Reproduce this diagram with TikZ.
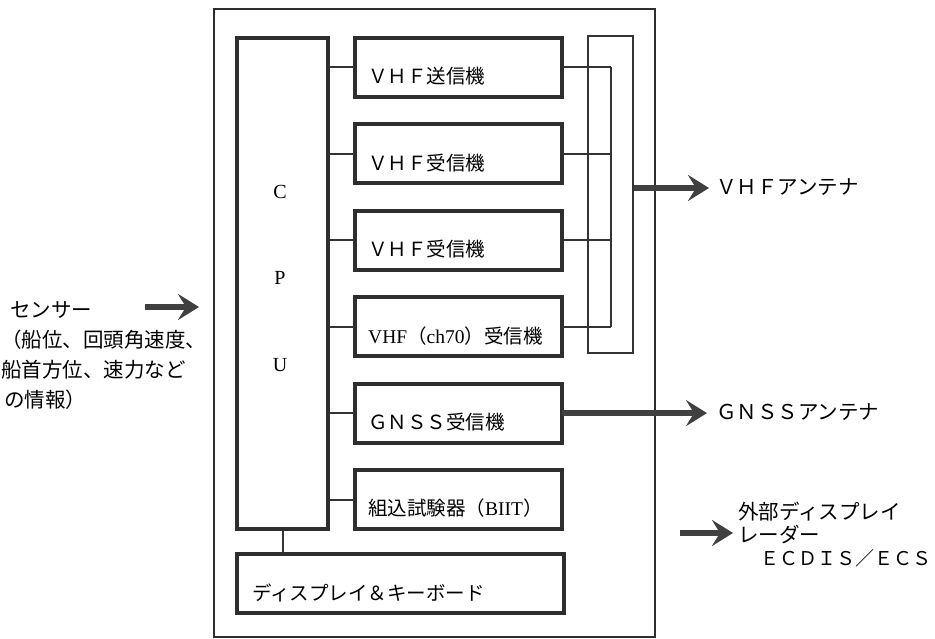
\documentclass[tikz,border=0pt]{standalone}
\usepackage{fontspec}
\setmainfont{Liberation Serif}
\newfontfamily\cjk{Noto Sans CJK JP}
\usetikzlibrary{arrows.meta}
\definecolor{boxc}{HTML}{2E2E2E}
\definecolor{linec}{HTML}{333333}
\definecolor{arrc}{HTML}{404040}
\begin{document}
\begin{tikzpicture}[x=1pt,y=-1pt]
\tikzset{
  unit/.style={draw=boxc, line width=4pt, minimum width=207.5pt, minimum height=59pt, inner sep=0pt, outer sep=0pt},
  lbl/.style={anchor=west, inner sep=0pt, text=black, font=\cjk\fontsize{19.5}{19.5}\selectfont},
  side/.style={anchor=west, inner sep=0pt, text=black, font=\cjk\fontsize{20.5}{20.5}\selectfont},
  wire/.style={draw=linec, line width=2pt},
  bigarrow/.style={draw=arrc, line width=5.5pt, -{Stealth[length=21pt,width=26pt,inset=8pt]}},
  cpul/.style={inner sep=0pt, text=black, font=\fontsize{20}{20}\selectfont}
}
\fill[white] (0,0) rectangle (935,639);
\useasboundingbox (0,0) rectangle (935,639);

% outer frame
\node[draw=boxc, line width=1.6pt, minimum width=441pt, minimum height=628pt, inner sep=0pt] (ais) at (434.5,323) {};

% CPU
\node[draw=boxc, line width=4pt, minimum width=91pt, minimum height=491pt, inner sep=0pt] (cpu) at (282,283.5) {};
\node[cpul] (c) at (280,192) {C};
\node[cpul] (p) at (280,278) {P};
\node[cpul] (u) at (280,365) {U};

% units
\node[unit] (tx) at (458.25,67.5) {};
\node[unit] (rx1) at (458.25,153.9) {};
\node[unit] (rx2) at (458.25,240.3) {};
\node[unit] (rx70) at (458.25,326.7) {};
\node[unit] (gnss) at (458.25,413.1) {};
\node[unit] (biit) at (458.25,499.5) {};
\node[draw=boxc, line width=4pt, minimum width=327.5pt, minimum height=59pt, inner sep=0pt] (disp) at (400.25,583.5) {};

\node[lbl] (txl) at (368,76.5) {ＶＨＦ送信機};
\node[lbl] (rx1l) at (368,162.9) {ＶＨＦ受信機};
\node[lbl] (rx2l) at (368,249.3) {ＶＨＦ受信機};
\node[lbl] (rx70l) at (368,335.7) {{\rmfamily\fontsize{19.5}{19.5}\selectfont VHF}（{\rmfamily\fontsize{19.5}{19.5}\selectfont ch70}）受信機};
\node[lbl] (gnssl) at (368,422.1) {ＧＮＳＳ受信機};
\node[lbl] (biitl) at (368,508.5) {組込試験器（{\rmfamily\fontsize{19.5}{19.5}\selectfont BIIT}）};
\node[lbl] (displ) at (252,592.5) {ディスプレイ＆キーボード};

% CPU connections
\foreach \n in {tx,rx1,rx2,rx70,gnss,biit}
  \draw[wire] (cpu.east |- \n.west) -- (\n.west);
\coordinate (cpudisp) at (283,0);
\draw[wire] (cpu.south -| cpudisp) -- (disp.north -| cpudisp);

% antenna bus
\coordinate (busx) at (611,0);
\foreach \n in {tx,rx1,rx2,rx70}
  \draw[wire] (\n.east) -- (\n.east -| busx);
\draw[wire] (tx.east -| busx) -- (rx70.east -| busx);
\node[draw=linec, line width=2pt, minimum width=45pt, minimum height=317pt, inner sep=0pt] (bus) at (610.5,194.5) {};

% right side
\node[side] (vhfa) at (716,187) {ＶＨＦアンテナ};
\coordinate (vhftip) at (709,188);
\draw[bigarrow] (bus.east |- vhftip) -- (vhftip);

\node[side] (gnssa) at (716,412) {ＧＮＳＳアンテナ};
\coordinate (gnsstip) at (707,0);
\draw[bigarrow] (gnss.east) -- (gnss.east -| gnsstip);

\node[side] (ext1) at (738,512) {外部ディスプレイ};
\node[side] (ext2) at (738,535) {レーダー};
\node[side, anchor=east, font=\cjk\fontsize{19}{19}\selectfont] (ext3) at (932,558) {ＥＣＤＩＳ／ＥＣＳ};
\coordinate (exts) at (680,533);
\coordinate (extt) at (733,533);
\draw[bigarrow] (exts) -- (extt);

% left side
\node[side] (sen1) at (10,310) {センサー};
\node[side] (sen2) at (1,340) {（船位、回頭角速度、};
\node[side] (sen3) at (1,370) {船首方位、速力など};
\node[side] (sen4) at (4,400) {の情報）};
\coordinate (sens) at (145,307);
\coordinate (sent) at (199,307);
\draw[bigarrow] (sens) -- (sent);
\end{tikzpicture}
\end{document}
